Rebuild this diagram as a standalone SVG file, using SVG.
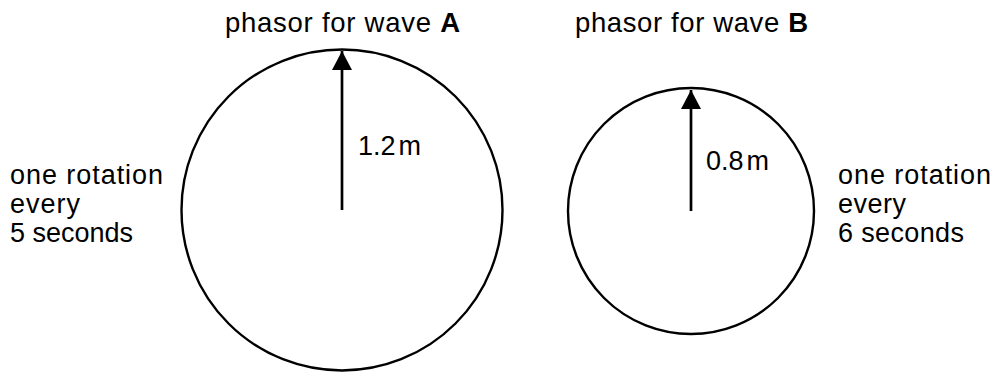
<svg xmlns="http://www.w3.org/2000/svg" width="993" height="372" viewBox="0 0 993 372">
<style>
text{font-family:"Liberation Sans",Arial,sans-serif;fill:#000;}
.t{font-size:27.5px;}
.l{font-size:27px;}
.s{font-size:27px;}
.circ{fill:none;stroke:#000;stroke-width:2.4;}
.vec{stroke:#000;stroke-width:2.7;fill:none;}
</style>
<defs>
<marker id="ah" markerUnits="userSpaceOnUse" markerWidth="22" markerHeight="20" refX="19" refY="10" orient="auto" viewBox="0 0 22 20">
<path d="M0,0 L19,10 L0,20 Z" fill="#000"/>
</marker>
</defs>
<rect width="993" height="372" fill="#fff"/>
<g id="phasorA">
<circle class="circ" cx="342" cy="210" r="160.5"/>
<text class="t" x="225" y="32" textLength="235" lengthAdjust="spacing">phasor for wave <tspan font-weight="bold">A</tspan></text>
<text class="l" x="358" y="155">1.2<tspan dx="3">m</tspan></text>
</g>
<g id="phasorB">
<circle class="circ" cx="691" cy="211" r="123"/>
<text class="t" x="575" y="32" textLength="233" lengthAdjust="spacing">phasor for wave <tspan font-weight="bold">B</tspan></text>
<text class="l" x="706" y="170">0.8<tspan dx="3">m</tspan></text>
</g>
<g id="labelA">
<text class="s" x="10" y="184" textLength="153" lengthAdjust="spacing">one rotation</text>
<text class="s" x="10" y="213" textLength="70" lengthAdjust="spacing">every</text>
<text class="s" x="10" y="242">5 seconds</text>
</g>
<g id="labelB">
<text class="s" x="838" y="184" textLength="153" lengthAdjust="spacing">one rotation</text>
<text class="s" x="838" y="213" textLength="68" lengthAdjust="spacing">every</text>
<text class="s" x="838" y="242" textLength="126" lengthAdjust="spacing">6 seconds</text>
</g>
<g id="connectors">
<line class="vec" x1="342" y1="210" x2="342" y2="51" marker-end="url(#ah)"/>
<line class="vec" x1="691" y1="211" x2="691" y2="90" marker-end="url(#ah)"/>
</g>
</svg>
